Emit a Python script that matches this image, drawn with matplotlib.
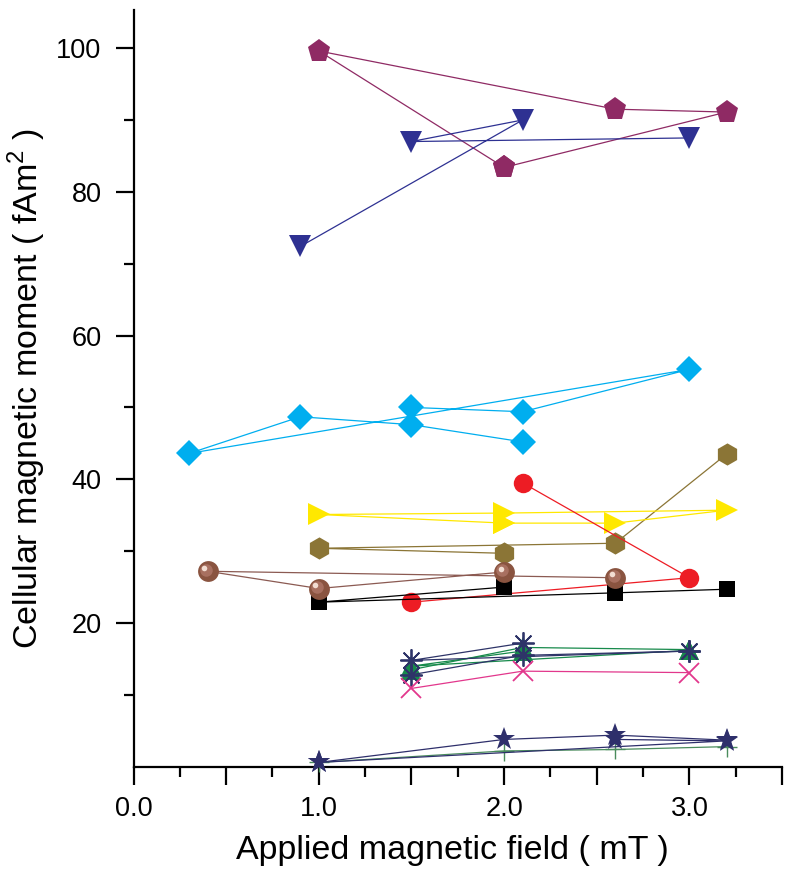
import matplotlib
matplotlib.use("Agg")
import matplotlib.pyplot as plt
from matplotlib.ticker import FixedLocator, MultipleLocator, FuncFormatter
from matplotlib.transforms import offset_copy

plt.rcParams['font.family'] = ['Liberation Sans', 'DejaVu Sans']
plt.rcParams['mathtext.fontset'] = 'custom'
plt.rcParams['mathtext.rm'] = 'Liberation Sans'

# field (mT) and moment (fAm^2) for each cell, in the order the points are joined
pent_x = [2.0, 1.0, 2.6, 3.2, 2.0]
pent_y = [83.4, 99.6, 91.5, 91.1, 83.4]
tri_x = [0.9, 2.1, 1.5, 3.0]
tri_y = [72.4, 90.0, 87.0, 87.5]
diam_x = [2.1, 1.5, 0.9, 0.3, 3.0, 2.1, 1.5]
diam_y = [45.2, 47.6, 48.7, 43.6, 55.3, 49.4, 50.0]
hex_x = [2.0, 1.0, 2.6, 3.2]
hex_y = [29.7, 30.4, 31.1, 43.5]
right_x = [2.0, 1.0, 2.0, 3.2, 2.6, 2.0]
right_y = [33.9, 35.1, 35.3, 35.7, 33.9, 33.9]
red_x = [2.1, 3.0, 1.5]
red_y = [39.5, 26.3, 22.9]
sph_x = [2.0, 1.0, 0.4, 2.6]
sph_y = [27.1, 24.8, 27.2, 26.3]
sq_x = [2.0, 1.0, 2.6, 3.2]
sq_y = [25.0, 22.9, 24.2, 24.7]
ast1_x = [2.1, 1.5, 3.0]
ast1_y = [17.2, 14.8, 16.1]
ast2_x = [1.5, 2.1, 3.0]
ast2_y = [12.8, 15.5, 16.1]
grn1_x = [1.5, 2.1, 3.0]
grn1_y = [13.5, 16.6, 16.3]
grn2_x = [2.1, 1.5, 3.0]
grn2_y = [16.1, 14.0, 16.2]
pink_x = [1.5, 2.1, 3.0]
pink_y = [10.9, 13.3, 13.1]
star1_x = [1.0, 2.0, 2.6, 3.2]
star1_y = [0.6, 3.8, 4.4, 3.7]
star2_x = [2.6, 3.2, 1.0]
star2_y = [3.8, 3.6, 0.6]
plus_x = [1.0, 2.0, 2.6, 3.2]
plus_y = [0.6, 2.2, 2.4, 2.8]

fig = plt.figure(figsize=(7.9, 8.71), dpi=100)
ax = fig.add_axes([0.169, 0.1197, 0.821, 0.8688])

lw = 0.9


def draw(x, y, color, marker, ms, mec=None, mew=0.0, lc=None, z=3):
    ax.plot(x, y, color=lc or color, lw=lw, marker=marker, ms=ms,
            mfc=color if marker not in ('x', '+', (8, 2, 0)) else 'none',
            mec=mec or color, mew=mew, clip_on=False, zorder=z)


draw(pent_x, pent_y, '#8f2a64', 'p', 17)
draw(tri_x, tri_y, '#2e3192', 'v', 16)
draw(diam_x, diam_y, '#00aeef', 'D', 13)
draw(hex_x, hex_y, '#8b7536', 'h', 16)
draw(right_x, right_y, '#ffe800', '>', 16)
draw(red_x, red_y, '#ed1c24', 'o', 14)
draw(sq_x, sq_y, '#000000', 's', 12)

# shaded spheres: dark disc, mid tone, highlight shifted up-left
draw(sph_x, sph_y, '#8a5440', 'o', 15, lc='#8b5a52')
mid = offset_copy(ax.transData, fig=fig, x=-1.2, y=1.2, units='points')
ax.plot(sph_x, sph_y, ls='none', marker='o', ms=9, mfc='#a87060', mew=0,
        transform=mid, clip_on=False, zorder=4)
hi = offset_copy(ax.transData, fig=fig, x=-2.5, y=2.5, units='points')
ax.plot(sph_x, sph_y, ls='none', marker='o', ms=4, mfc='#f2ddd2', mew=0,
        transform=hi, clip_on=False, zorder=5)

draw(grn1_x, grn1_y, '#178a4b', '^', 15)
draw(grn2_x, grn2_y, '#178a4b', '^', 15)
draw(ast1_x, ast1_y, '#2e3468', (8, 2, 0), 16, mew=1.3)
draw(ast2_x, ast2_y, '#2e3468', (8, 2, 0), 16, mew=1.3)
draw(pink_x, pink_y, '#e2378c', 'x', 14, mew=1.3)
draw(plus_x, plus_y, '#4a8c5c', '+', 14, mew=1.0)
draw(star1_x, star1_y, '#2e2f6b', '*', 17)
draw(star2_x, star2_y, '#2e2f6b', '*', 17)

ax.set_xlim(0, 3.5)
ax.set_ylim(0, 105.3)

for s in ['top', 'right']:
    ax.spines[s].set_visible(False)
for s in ['left', 'bottom']:
    ax.spines[s].set_linewidth(1.6)

ax.xaxis.set_major_locator(MultipleLocator(0.5))
ax.xaxis.set_minor_locator(MultipleLocator(0.25))
ax.xaxis.set_major_formatter(FuncFormatter(lambda v, p: '%.1f' % v if abs(v - round(v)) < 1e-6 else ''))
ax.yaxis.set_major_locator(FixedLocator([20, 40, 60, 80, 100]))
ax.yaxis.set_minor_locator(FixedLocator([10, 30, 50, 70, 90]))

ax.tick_params(axis='both', which='major', length=13, width=1.6, labelsize=19.5, direction='out')
ax.tick_params(axis='both', which='minor', length=7, width=1.6, direction='out')
ax.tick_params(axis='y', which='major', pad=10)
ax.tick_params(axis='x', which='major', pad=8)

ax.set_xlabel('Applied magnetic field ( mT )', fontsize=24.5)
ax.set_ylabel('Cellular magnetic moment ( fAm$^{2}$ )', fontsize=24.5)
ax.xaxis.set_label_coords(0.491, -0.09)
ax.yaxis.set_label_coords(-0.132, 0.5)

fig.savefig('out.png', dpi=100)
